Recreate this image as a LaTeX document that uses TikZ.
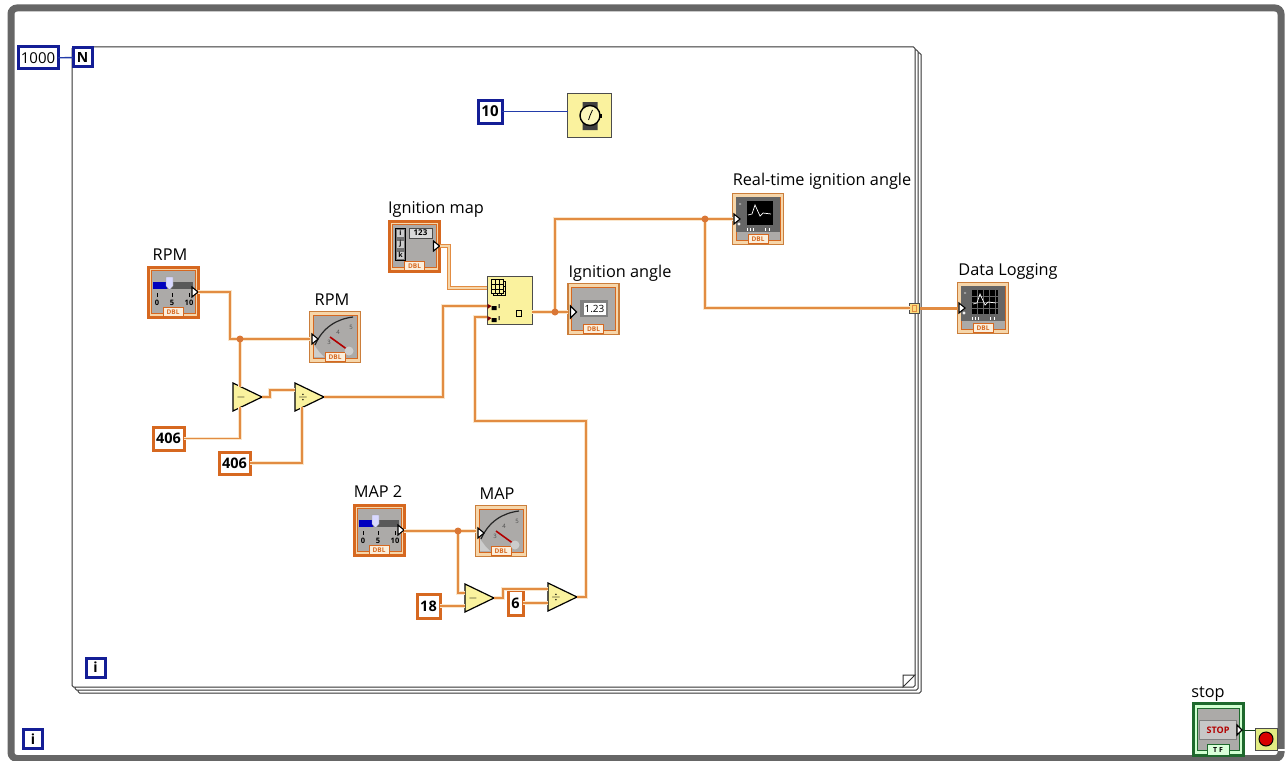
\documentclass[tikz,border=0pt]{standalone}
\usepackage{fontspec}
\setmainfont{Open Sans}
\usetikzlibrary{shapes.geometric}
\definecolor{dblorange}{RGB}{226, 140, 66}
\definecolor{ctrlorange}{RGB}{214, 104, 32}
\definecolor{tanring}{RGB}{246, 214, 170}
\definecolor{faceGray}{RGB}{172, 170, 168}
\definecolor{intblue}{RGB}{20, 30, 150}
\definecolor{intwireblue}{RGB}{35, 60, 170}
\definecolor{nodeyellow}{RGB}{250, 242, 158}
\definecolor{framegray}{RGB}{102, 102, 102}
\definecolor{boolgreen}{RGB}{30, 105, 45}
\definecolor{stopyellow}{RGB}{226, 236, 130}
\tikzset{
    every node/.style={outer sep=0pt},
    lab/.style={font=\fontsize{16.3}{18}\selectfont, inner sep=0pt, anchor=base},
    wire/.style={preaction={draw=tanring!60, line width=3.4pt}, draw=dblorange, line width=1.6pt},
    arraywire/.style={draw=dblorange, line width=1.4pt, double=tanring, double distance=1.6pt},
    intwire/.style={draw=intwireblue, line width=1.4pt},
    joint/.style={circle, fill=ctrlorange!90, minimum size=7pt, inner sep=0pt},
    ctrlbox/.style={draw=ctrlorange, line width=3pt, fill=tanring, minimum size=50pt, inner sep=0pt},
    showbox/.style={draw=dblorange!90!black, line width=1.5pt, fill=tanring, minimum size=51pt, inner sep=0pt},
    constorange/.style={draw=ctrlorange, line width=3pt, fill=white, inner sep=0pt, font=\fontsize{14.5}{16}\selectfont\bfseries},
    constblue/.style={draw=intblue, line width=3pt, fill=white, inner sep=0pt, font=\fontsize{15}{16}\selectfont},
    loopmark/.style={draw=intblue, line width=3pt, fill=white, inner sep=0pt, minimum size=19pt, font=\fontsize{14}{14}\selectfont\bfseries},
    arith/.style={isosceles triangle, isosceles triangle stretches, shape border rotate=0, draw=black, line width=1.2pt,
        fill=nodeyellow, minimum width=28pt, minimum height=29pt, inner sep=0pt, anchor=apex, font=\fontsize{13}{13}\selectfont},
    loopframe/.style={draw=black!80, line width=1pt, fill=white, rounded corners=1.5pt, anchor=north west, inner sep=0pt},
    dbltag/.style={draw=ctrlorange, line width=.7pt, fill=tanring!40, minimum width=20pt, minimum height=9pt, inner sep=0pt,
        font=\fontsize{6.5}{7}\selectfont\bfseries},
    terminal/.style={draw=black, line width=1.1pt, fill=white},
    pics/dblface/.style={code={
        \fill[faceGray, draw=ctrlorange, line width=.7pt] (-22,-22) rectangle (22,21);
        \node[dbltag, text=ctrlorange] at (0,20) {DBL};
    }},
    pics/sliderface/.style={code={
        \pic {dblface};
        \fill[black!65] (-20,-10) rectangle (20,-3);
        \fill[blue!75!black] (-20,-10) rectangle (-6,-3);
        \fill[white!85!blue, draw=black!40, line width=.3pt] (-7,-15) -- (0,-15) -- (0,-6) -- (-3.5,-2) -- (-7,-6) -- cycle;
        \foreach \tx/\tn in {-16/0, -1/5, 16/10} {
            \draw[black, line width=.7pt] (\tx,1) -- (\tx,5);
            \node[font=\fontsize{7.5}{8}\selectfont\bfseries, inner sep=0pt] at (\tx,11) {\tn};
        }
        \draw[terminal] (19,-5) -- (25,0) -- (19,5) -- cycle;
    }},
    pics/gaugeface/.style={code={
        \pic {dblface};
        \draw[black!85, line width=1.2pt] (-20,8) .. controls (-12,-10) and (2,-18) .. (18,-20);
        \fill[white!80!black] (-21,20) -- (-21,8) -- (-15,16) -- (-11,20) -- cycle;
        \foreach \nx/\ny/\nn in {-6/5/3, 3/-5/4, 16/-10/5}
            \node[font=\fontsize{6}{7}\selectfont, text=black!70, inner sep=0pt] at (\nx,\ny) {\nn};
        \draw[red!70!black, line width=1.6pt] (13,13) -- (-5,0);
        \fill[white!80!black] (14,14) circle (4.5);
        \draw[terminal] (-23,-3) -- (-17,2) -- (-23,7) -- cycle;
    }},
    pics/tracelines/.style={code={
        \draw[white, line width=.7pt] (-10,-4) -- (-6,-5) -- (-3,-14) -- (2,-3) -- (5,-6) -- (13,-5);
    }},
    pics/gridlines/.style={code={
        \foreach \gx in {-6,0,6,12}
            \draw[black!60, line width=.5pt] (\gx,-18) -- (\gx,6);
        \foreach \gy in {-12,-6,0}
            \draw[black!60, line width=.5pt] (-11,\gy) -- (15,\gy);
    }},
    pics/graphface/.style={code={
        \pic {dblface};
        \fill[black!60] (-22,-22) rectangle (22,13);
        \fill[black] (-11,-18) rectangle (15,6);
        \foreach \bx in {-11,-8,-5,7,11}
            \draw[white, line width=.7pt] (\bx,9) -- (\bx,12);
        \draw[white, line width=.7pt] (-19,-15) -- (-17,-15) (-19,5) circle (1.2);
        \draw[terminal] (-24,-5) -- (-18,0) -- (-24,5) -- cycle;
    }},
    pics/numface/.style={code={
        \pic {dblface};
        \fill[black!50] (-14,-9) rectangle (14,8);
        \node[fill=white, minimum width=22pt, minimum height=12pt, inner sep=0pt, font=\fontsize{10}{10}\selectfont] at (1,0) {1.23};
        \draw[terminal] (-23,-3) -- (-17,3) -- (-23,9) -- cycle;
    }},
    pics/arrayface/.style={code={
        \pic {dblface};
        \draw[black, fill=black!55, line width=1pt] (-19,-18) rectangle (-9,14);
        \foreach \iy/\il in {-13/i, -2/j, 9/k} {
            \node[fill=white!80!black, minimum size=7pt, inner sep=0pt, font=\fontsize{7}{7}\selectfont\bfseries] at (-14,\iy) {\il};
        }
        \node[draw=black!70, line width=1pt, fill=white!85!black, minimum width=23pt, minimum height=10pt, inner sep=0pt,
            font=\fontsize{8}{8}\selectfont\bfseries] at (6,-13) {123};
        \draw[terminal] (19,-5) -- (25,0) -- (19,5) -- cycle;
    }},
    pics/indexicon/.style={code={
        \foreach \sh in {2,0} {
            \draw[black, fill=nodeyellow, line width=.8pt] (-18+\sh,-21+\sh) rectangle (-6+\sh,-7+\sh);
            \draw[black, line width=.8pt] (-14+\sh,-21+\sh) -- (-14+\sh,-7+\sh) (-10+\sh,-21+\sh) -- (-10+\sh,-7+\sh)
                (-18+\sh,-16+\sh) -- (-6+\sh,-16+\sh) (-18+\sh,-11+\sh) -- (-6+\sh,-11+\sh);
        }
        \fill[black] (-18,6) rectangle (-13,10) (-18,18) rectangle (-13,22);
        \fill[red!50!black] (-22,4) -- (-18,6) -- (-22,9) -- cycle (-22,16) -- (-18,18) -- (-22,21) -- cycle;
        \fill[black] (-11,4) rectangle (-10,8) (-11,16) rectangle (-10,20);
        \draw[black, line width=1pt] (7,10) rectangle (12,16);
    }},
    pics/watchicon/.style={code={
        \fill[black!75] (-7,-13) rectangle (8,-6) (-7,6) rectangle (8,15);
        \draw[black, fill=nodeyellow!70!white, line width=1.4pt] (.5,.5) circle (10);
        \fill[black] (10.5,-1.5) rectangle (12,2.5);
        \draw[black, line width=.8pt] (.5,.5) -- (3,-5) (.5,.5) -- (-1,5);
    }},
    pics/stopface/.style={code={
        \draw[boolgreen, line width=1pt, fill=faceGray] (-21,-21) rectangle (21,21);
        \node[draw=black!50, line width=.7pt, fill=black!22, minimum width=37pt, minimum height=19pt, inner sep=0pt,
            text=red!70!black, font=\fontsize{9}{9}\selectfont\bfseries] at (0,1) {STOP};
        \node[draw=boolgreen, line width=.8pt, fill=green!15, minimum width=22pt, minimum height=11pt, inner sep=0pt,
            font=\fontsize{7}{8}\selectfont\bfseries] at (0,21) {T F};
        \draw[terminal] (19,-4) -- (24,1) -- (19,6) -- cycle;
    }},
}

\begin{document}
\begin{tikzpicture}[x=1pt, y=-1pt]
    \useasboundingbox (0,0) rectangle (1287,760);
    \fill[white] (0,0) rectangle (1287,760);
    \draw[framegray, line width=7pt, rounded corners=6pt] (11,8) rectangle (1281,758.5);
    \draw[white, line width=1.5pt] (1277,750) -- (1287,750);

    \node[loopframe, minimum width=843pt, minimum height=640pt] (loopc) at (78,53) {};
    \node[loopframe, minimum width=843pt, minimum height=640pt] (loopb) at (75,50) {};
    \node[loopframe, minimum width=843pt, minimum height=640pt] (loopa) at (72,47) {};
    \draw[black!80, line width=1pt, fill=white] (903,687) -- (903,675) -- (915,675) -- cycle;

    \node[constblue, minimum width=40pt, minimum height=22pt] (countval) at (38,58) {1000};
    \node[loopmark] (countN) at (82.5,57.5) {N};
    \node[loopmark] (loopi) at (95.5,667.5) {i};
    \node[loopmark] (outeri) at (33,739) {i};

    \node[constblue, minimum width=24pt, minimum height=23pt, font=\fontsize{15}{16}\selectfont\bfseries] (waitval) at (490,111.5) {10};
    \node[draw=black!70, line width=1pt, fill=nodeyellow, minimum size=44pt, inner sep=0pt] (waitms) at (589.5,115) {};
    \pic at (waitms) {watchicon};

    \node[ctrlbox] (rpmctl) at (173,292) {};
    \pic at (rpmctl) {sliderface};
    \node[lab] (rpmctllab) at (170,260) {RPM};
    \node[showbox] (rpmgauge) at (335,337) {};
    \pic at (rpmgauge) {gaugeface};
    \node[lab] (rpmgaugelab) at (332,305) {RPM};
    \node[arith] (rpmsub) at (262,397) {$-$};
    \node[arith] (rpmdiv) at (324,397) {$\div$};
    \node[constorange, minimum width=31pt, minimum height=23pt] (rpma) at (168.5,438.5) {406};
    \node[constorange, minimum width=31pt, minimum height=22pt] (rpmb) at (234.5,463) {406};

    \node[ctrlbox] (mapctl) at (379,530) {};
    \pic at (mapctl) {sliderface};
    \node[lab] (mapctllab) at (378,497) {MAP 2};
    \node[showbox] (mapgauge) at (501,531) {};
    \pic at (mapgauge) {gaugeface};
    \node[lab] (mapgaugelab) at (497,499) {MAP};
    \node[arith] (mapsub) at (494,598) {$-$};
    \node[arith] (mapdiv) at (577,597) {$\div$};
    \node[constorange, minimum width=23pt, minimum height=24pt] (mapa) at (428.5,606) {18};
    \node[constorange, minimum width=15pt, minimum height=25pt] (mapb) at (515.5,603) {6};

    \node[ctrlbox] (ignmap) at (414.5,246) {};
    \pic at (ignmap) {arrayface};
    \node[lab] (ignmaplab) at (436,213) {Ignition map};
    \node[draw=black!70, line width=1pt, fill=nodeyellow, minimum width=45pt, minimum height=48pt, inner sep=0pt] (lookup) at (509.5,300) {};
    \pic at (lookup) {indexicon};
    \node[showbox] (ignout) at (593.5,309) {};
    \pic at (ignout) {numface};
    \node[lab] (ignoutlab) at (620,277) {Ignition angle};
    \node[showbox] (livechart) at (758,219) {};
    \pic at (livechart) {graphface};
    \pic at (livechart) {tracelines};
    \node[lab] (livechartlab) at (822,185) {Real-time ignition angle};
    \node[showbox] (logchart) at (983,308) {};
    \pic at (logchart) {graphface};
    \pic at (logchart) {gridlines};
    \pic at (logchart) {tracelines};
    \node[lab] (logchartlab) at (1008,275) {Data Logging};
    \node[draw=black!70, line width=1pt, fill=nodeyellow!80!orange, minimum size=10pt, inner sep=0pt] (tunnel) at (914.5,308) {};
    \draw[dblorange, line width=1pt] (912.5,305) rectangle (916.5,311);

    \node[draw=boolgreen, line width=3pt, fill=green!18, minimum width=50pt, minimum height=52pt, inner sep=0pt] (stopctl) at (1218,729) {};
    \pic at (stopctl) {stopface};
    \node[lab] (stopctllab) at (1208,697) {stop};
    \node[draw=black!70, line width=1pt, fill=stopyellow, minimum size=22pt, inner sep=0pt] (stopterm) at (1266,739) {};
    \node[circle, draw=black, line width=1pt, fill=red!85!black, minimum size=14pt, inner sep=0pt] (stoplamp) at (1266,739) {};

    \coordinate (rpmjoin) at (240,339);
    \coordinate (mapjoin) at (458,531);
    \coordinate (outjoin) at (555,312);
    \coordinate (livejoin) at (705,219);
    \coordinate (rpmdivin) at (295,390);
    \coordinate (mapsubin) at (465,593);
    \coordinate (mapdivin) at (548,589);
    \coordinate (mapdivlow) at (548,604);
    \coordinate (lookupa) at (487,306);
    \coordinate (lookupb) at (487,317);
    \coordinate (lookuparr) at (487,288);
    \coordinate (stopin) at (1255,730);

    \draw[intwire] (countval) -- (countN);
    \draw[intwire] (waitval.east) -- (waitval.east -| waitms.west);
    \draw[wire] (rpmctl.east) -| (230,339) -- (rpmjoin);
    \draw[wire] (rpmjoin) -- (rpmjoin -| rpmgauge.west);
    \draw[wire] (rpmjoin) -- (240,387);
    \draw[wire] (rpma.east) -| (240,407);
    \draw[wire] (rpmsub.apex) -- (270,397) -- (270,390) -- (rpmdivin);
    \draw[wire] (rpmb.east) -| (302,407);
    \draw[wire] (rpmdiv.apex) -| (443,306) -- (lookupa);
    \draw[arraywire] (ignmap.east) -- (449,246) |- (lookuparr);
    \draw[wire] (mapctl.east |- mapjoin) -- (mapjoin -| mapgauge.west);
    \draw[wire] (mapjoin) |- (mapsubin);
    \draw[wire] (mapa.east) -- (465,606);
    \draw[wire] (mapsub.apex) -- (503,598) -- (503,589) -- (mapdivin);
    \draw[wire] (mapb.east) -- (mapb.east -| mapdivlow);
    \draw[wire] (mapdiv.apex) -- (586,597) |- (475,421) -- (475,317) -- (lookupb);
    \draw[wire] (outjoin -| lookup.east) -- (outjoin) -- (outjoin -| ignout.west);
    \draw[wire] (outjoin) |- (livejoin);
    \draw[wire] (livejoin) -- (livejoin -| livechart.west);
    \draw[wire] (livejoin) |- (tunnel.west);
    \draw[dblorange, line width=3pt] (tunnel.east) -- (logchart.west);
    \draw[boolgreen!60!black, line width=.8pt] (stopctl.east |- stopin) -- (stopin);

    \node[joint] (rpmdot) at (rpmjoin) {};
    \node[joint] (mapdot) at (mapjoin) {};
    \node[joint] (outdot) at (outjoin) {};
    \node[joint] (livedot) at (livejoin) {};
\end{tikzpicture}
\end{document}
